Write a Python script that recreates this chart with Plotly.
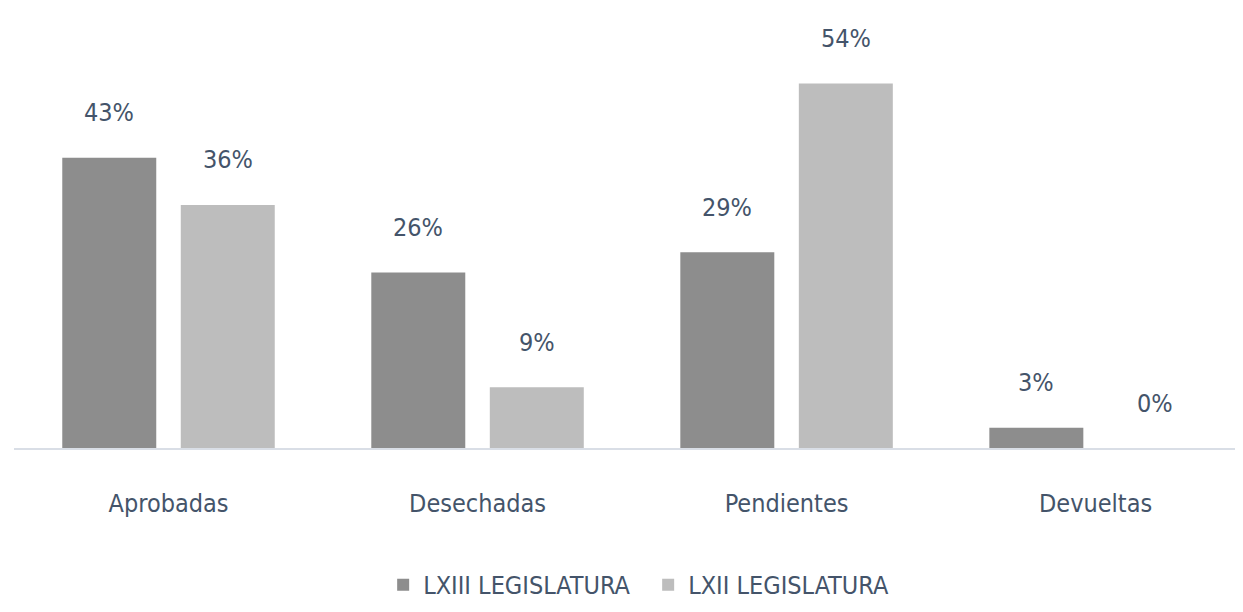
import plotly.graph_objects as go

categories = ["Aprobadas", "Desechadas", "Pendientes", "Devueltas"]
lxiii = [43, 26, 29, 3]
lxii = [36, 9, 54, 0]
series_names = ["LXIII LEGISLATURA", "LXII LEGISLATURA"]

TEXT = "#44546A"
FONT = "Liberation Sans Narrow, DejaVu Sans Condensed, sans-serif"

fig = go.Figure()
fig.add_trace(go.Bar(x=list(range(len(categories))), y=lxiii, name=series_names[0],
                     marker=dict(color="#8D8D8D", line=dict(width=0))))
fig.add_trace(go.Bar(x=list(range(len(categories))), y=lxii, name=series_names[1],
                     marker=dict(color="#BDBDBD", line=dict(width=0))))

off = 0.1917
for i in range(len(categories)):
    for dx, vals in ((-off, lxiii), (off, lxii)):
        fig.add_annotation(x=i + dx, y=vals[i], xref="x", yref="y", text=f"{vals[i]}%",
                           showarrow=False, yshift=45, font=dict(size=25, color=TEXT, family=FONT))

fig.update_layout(
    width=1243, height=612,
    margin=dict(l=6, r=8, t=12, b=172),
    paper_bgcolor="white", plot_bgcolor="white",
    barmode="group", bargap=0.233, bargroupgap=0.207,
    font=dict(family=FONT, color=TEXT, size=25),
    showlegend=True,
    legend=dict(orientation="h", x=0.516, xanchor="center", y=-0.32, yanchor="middle",
                font=dict(size=25, color=TEXT, family=FONT), itemwidth=30, entrywidth=220),
    xaxis=dict(range=[-0.5, 3.477], tickmode="array", tickvals=list(range(len(categories))),
               ticktext=categories, showgrid=False, zeroline=False,
               showline=True, linecolor="#D9DEE6", linewidth=2,
               ticks="outside", ticklen=32, tickcolor="rgba(0,0,0,0)",
               tickfont=dict(size=25, color=TEXT, family=FONT)),
    yaxis=dict(range=[0, 63.4], visible=False, showgrid=False, zeroline=False),
)

fig.write_html("out.html")
